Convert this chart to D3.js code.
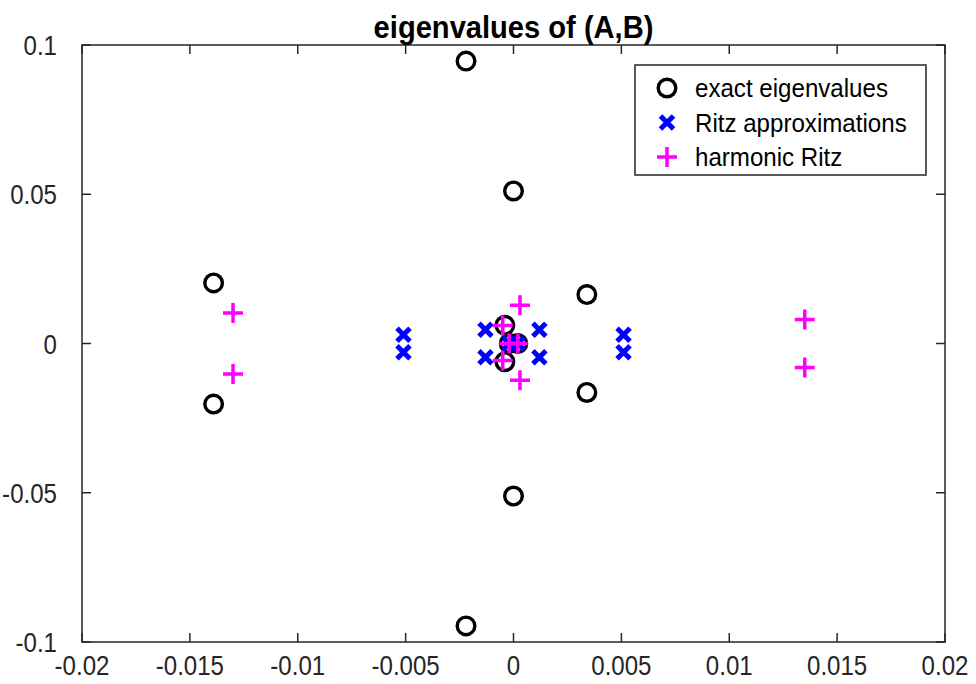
<!DOCTYPE html>
<html>
<head>
<meta charset="utf-8">
<script src="https://cdn.jsdelivr.net/npm/d3@7"></script>
<style>
  body { margin: 0; background: #fff; }
  svg { display: block; font-family: "Liberation Sans", Arial, sans-serif; }
</style>
</head>
<body>
<svg id="chart" width="976" height="684"></svg>
<script>
// exact eigenvalues of (A,B)
const exactRe = [-0.0022, 0.0000, -0.0139, -0.0139, 0.0034, 0.0034, 0.0000, -0.0022, -0.0004, -0.0004, -0.0002, 0.0002];
const exactIm = [0.0946, 0.0511, 0.0203, -0.0203, 0.0164, -0.0164, -0.0511, -0.0946, 0.0061, -0.0061, 0.0000, 0.0000];

// Ritz approximations
const ritzRe = [-0.0051, -0.0051, -0.0013, -0.0013, 0.0012, 0.0012, 0.0051, 0.0051, -0.0002, 0.0002];
const ritzIm = [0.0029, -0.0029, 0.0046, -0.0046, 0.0046, -0.0046, 0.0029, -0.0029, 0.0000, 0.0000];

// harmonic Ritz
const harmRe = [-0.0130, -0.0130, 0.0135, 0.0135, 0.0003, 0.0003, -0.0005, -0.0005, -0.0002, 0.0002];
const harmIm = [0.0102, -0.0102, 0.0080, -0.0080, 0.0128, -0.0123, 0.0060, -0.0057, 0.0000, 0.0000];

const xTicks = [-0.02, -0.015, -0.01, -0.005, 0, 0.005, 0.01, 0.015, 0.02];
const xTickLabels = ['-0.02', '-0.015', '-0.01', '-0.005', '0', '0.005', '0.01', '0.015', '0.02'];
const yTicks = [-0.1, -0.05, 0, 0.05, 0.1];
const yTickLabels = ['-0.1', '-0.05', '0', '0.05', '0.1'];

const seriesNames = ['exact eigenvalues', 'Ritz approximations', 'harmonic Ritz'];

const L = 82, R = 945, T = 45, B = 642;
const AX = '#262626';

const svg = d3.select('#chart');
const x = d3.scaleLinear().domain([-0.02, 0.02]).range([L, R]);
const y = d3.scaleLinear().domain([-0.1, 0.1]).range([B, T]);

// text in the original is a bit narrow, so squeeze it horizontally
function label(g, tx, ty, str, size, anchor, sx) {
  return g.append('text')
      .attr('transform', `translate(${tx},${ty}) scale(${sx},1)`)
      .attr('text-anchor', anchor).attr('font-size', size)
      .text(str);
}

// axes box with inward ticks on all sides
const tickLen = 9;
const axes = svg.append('g');
axes.append('rect')
    .attr('x', L).attr('y', T).attr('width', R - L).attr('height', B - T)
    .attr('fill', 'none').attr('stroke', AX).attr('stroke-width', 1.5);

xTicks.forEach((t, i) => {
  const px = x(t);
  axes.append('line').attr('x1', px).attr('x2', px).attr('y1', B).attr('y2', B - tickLen)
      .attr('stroke', AX).attr('stroke-width', 1.5);
  axes.append('line').attr('x1', px).attr('x2', px).attr('y1', T).attr('y2', T + tickLen)
      .attr('stroke', AX).attr('stroke-width', 1.5);
  label(axes, px, B + 33, xTickLabels[i], 28, 'middle', 0.86).attr('fill', AX);
});

yTicks.forEach((t, i) => {
  const py = y(t);
  axes.append('line').attr('x1', L).attr('x2', L + tickLen).attr('y1', py).attr('y2', py)
      .attr('stroke', AX).attr('stroke-width', 1.5);
  axes.append('line').attr('x1', R).attr('x2', R - tickLen).attr('y1', py).attr('y2', py)
      .attr('stroke', AX).attr('stroke-width', 1.5);
  label(axes, L - 25, py + 10, yTickLabels[i], 28, 'end', 0.86).attr('fill', AX);
});

// title
label(svg, (L + R) / 2, 38, 'eigenvalues of (A,B)', 32, 'middle', 0.91)
    .attr('font-weight', 'bold').attr('fill', '#000');

// marker helpers
function circleMark(g, cx, cy) {
  g.append('circle').attr('cx', cx).attr('cy', cy).attr('r', 8.8)
      .attr('fill', 'none').attr('stroke', '#000').attr('stroke-width', 3.4);
}
function xMark(g, cx, cy) {
  const s = 6.5;
  g.append('path')
      .attr('d', `M${cx - s},${cy - s}L${cx + s},${cy + s}M${cx - s},${cy + s}L${cx + s},${cy - s}`)
      .attr('stroke', '#0000ff').attr('stroke-width', 5).attr('fill', 'none');
}
function plusMark(g, cx, cy) {
  const s = 10;
  g.append('path')
      .attr('d', `M${cx - s},${cy}L${cx + s},${cy}M${cx},${cy - s}L${cx},${cy + s}`)
      .attr('stroke', '#ff00ff').attr('stroke-width', 3.5).attr('fill', 'none');
}

const marks = svg.append('g');
exactRe.forEach((v, i) => circleMark(marks, x(v), y(exactIm[i])));
ritzRe.forEach((v, i) => xMark(marks, x(v), y(ritzIm[i])));
harmRe.forEach((v, i) => plusMark(marks, x(v), y(harmIm[i])));

// legend
const lg = svg.append('g');
lg.append('rect')
    .attr('x', 635).attr('y', 65).attr('width', 291).attr('height', 110)
    .attr('fill', '#fff').attr('stroke', AX).attr('stroke-width', 1.5);
const drawers = [circleMark, xMark, plusMark];
seriesNames.forEach((name, i) => {
  const ry = 88 + i * 34.5;
  drawers[i](lg, 667, ry);
  label(lg, 695, ry + 9, name, 26.5, 'start', 0.91).attr('fill', '#000');
});
</script>
</body>
</html>
